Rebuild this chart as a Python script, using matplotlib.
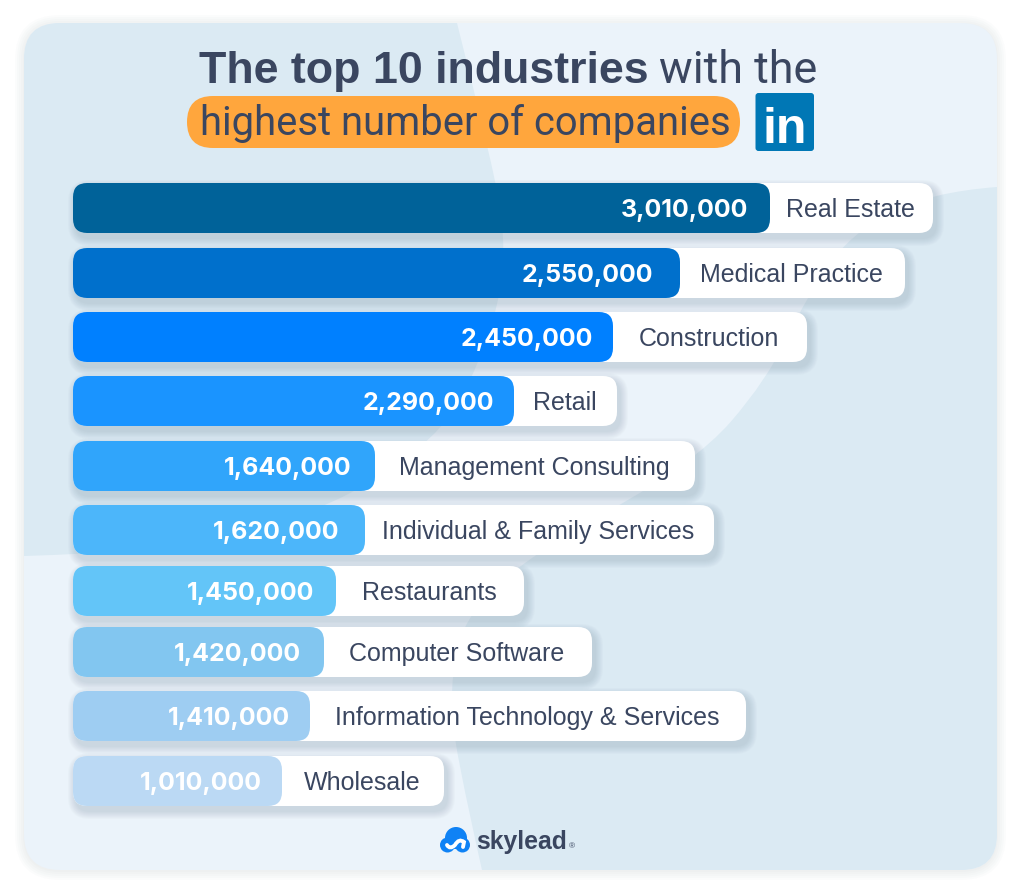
import matplotlib
matplotlib.use("Agg")
import matplotlib.pyplot as plt
from matplotlib.patches import FancyBboxPatch, PathPatch, Circle
from matplotlib.path import Path

plt.rcParams["font.family"] = ["Liberation Sans", "DejaVu Sans"]

industries = ["Real Estate", "Medical Practice", "Construction", "Retail",
              "Management Consulting", "Individual & Family Services",
              "Restaurants", "Computer Software",
              "Information Technology & Services", "Wholesale"]
company_labels = ["3,010,000", "2,550,000", "2,450,000", "2,290,000", "1,640,000",
                  "1,620,000", "1,450,000", "1,420,000", "1,410,000", "1,010,000"]
# the bars in the picture are not to scale with their labels, so lengths are read off it
bar_lengths = [697, 607, 540, 441, 302, 292, 263, 251, 237, 209]

pill_lengths = [860, 832, 734, 544, 622, 641, 451, 519, 673, 371]
bar_tops = [183, 248, 312, 376, 441, 505, 566, 627, 691, 756]
value_gaps = [22, 27, 20, 20, 23, 26, 22, 23, 20, 20]
bar_colors = ["#006299", "#0070CC", "#0080FF", "#1A94FF", "#30A5FB",
              "#4CB6FA", "#63C5F8", "#82C6F0", "#9ECDF2", "#BBD9F4"]
BAR_LEFT = 73
BAR_H = 50
DARK = "#3A4660"
LIGHT_BG = "#EBF3FA"
DARK_BG = "#DBEAF3"


def rounded(x, y, w, h, r, color, **kw):
    return FancyBboxPatch((x, y), w, h, boxstyle=f"round,pad=0,rounding_size={r}",
                          fc=color, ec="none", **kw)


def smooth_shape(points, closing):
    # quadratic spline through the midpoints of points, closed off along closing
    verts = [points[0]]
    codes = [Path.MOVETO]
    for i in range(1, len(points) - 1):
        mid = ((points[i][0] + points[i + 1][0]) / 2, (points[i][1] + points[i + 1][1]) / 2)
        if i == len(points) - 2:
            mid = points[i + 1]
        verts += [points[i], mid]
        codes += [Path.CURVE3, Path.CURVE3]
    for p in closing:
        verts.append(p)
        codes.append(Path.LINETO)
    verts.append(points[0])
    codes.append(Path.CLOSEPOLY)
    return Path(verts, codes)


fig = plt.figure(figsize=(10.2, 8.86), dpi=100, facecolor="white")
ax = fig.add_axes([0, 0, 1, 1])
ax.set_xlim(0, 1020)
ax.set_ylim(886, 0)
ax.axis("off")
renderer = fig.canvas.get_renderer()


def fit_text(x0, x1, y, s, **kw):
    # size the text so it spans x0..x1
    t = ax.text(x0, y, s, fontsize=30, va="baseline", **kw)
    t.set_fontsize(30 * (x1 - x0) / t.get_window_extent(renderer).width)
    return t


# card with its faint halo
for grow in [9, 7, 5, 3, 1]:
    ax.add_patch(rounded(24 - grow, 23 - grow + 1, 973 + 2 * grow, 847 + 2 * grow, 36 + grow,
                         "#9AA5AE", alpha=0.03))
card = rounded(24, 23, 973, 847, 36, LIGHT_BG)
ax.add_patch(card)

# background blobs
left_blob = smooth_shape(
    [(457, 23), (494, 170), (505, 237), (500, 303), (470, 385), (433, 440),
     (357, 493), (250, 535), (150, 552), (24, 556)],
    [(24, 23)])
right_blob = smooth_shape(
    [(997, 187), (930, 192), (851, 233), (806, 298), (767, 380), (695, 463),
     (526, 557), (462, 620), (450, 690), (455, 750), (482, 870)],
    [(997, 870)])
for blob in [left_blob, right_blob]:
    patch = PathPatch(blob, fc=DARK_BG, ec="none")
    ax.add_patch(patch)
    patch.set_clip_path(card)

# title
fit_text(199, 650, 83, "The top 10 industries", fontweight="bold", color=DARK)
fit_text(659, 817, 83, "with the", color=DARK, family="Roboto")
ax.add_patch(rounded(187, 96, 553, 52, 26, "#FFA63D"))
fit_text(200, 731, 135, "highest number of companies", color=DARK, family="Roboto")

# linkedin badge
ax.add_patch(rounded(755.5, 93, 58.5, 58, 3, "#0077B5"))
ax.text(784.5, 143, "in", fontsize=36, fontweight="bold", color="white", ha="center", va="baseline")

# rows
for name, value, length, pill, top, gap, color in zip(industries, company_labels, bar_lengths,
                                                      pill_lengths, bar_tops, value_gaps, bar_colors):
    for grow in [8, 7, 6, 5, 4, 3, 2, 1]:
        ax.add_patch(rounded(BAR_LEFT + 3 - grow, top + 5 - grow, pill + 2 * grow, BAR_H + 2 * grow,
                             14 + grow, "#5F7689", alpha=0.027))
    ax.add_patch(rounded(BAR_LEFT, top, pill, BAR_H, 14, "white"))
    ax.add_patch(rounded(BAR_LEFT, top, length, BAR_H, 14, color))
    end = BAR_LEFT + length
    ax.text(end - gap, top + 25, value, fontsize=18, fontweight="bold", family="Inter", color="white",
            ha="right", va="center_baseline")
    # labels sit in the middle of the white part of the pill
    ax.text((end + BAR_LEFT + pill) / 2 - 1, top + 24, name, fontsize=18, color=DARK,
            ha="center", va="center_baseline")

# skylead logo
blue = "#0F82F5"
ax.add_patch(Circle((456, 838), 11, fc=blue, ec="none"))
ax.add_patch(Circle((447.5, 845), 7.5, fc=blue, ec="none"))
ax.add_patch(Circle((462.5, 845), 7.5, fc=blue, ec="none"))
chain = Path([(447, 845), (450, 850), (455, 845), (459, 838), (464, 842), (463, 847)],
             [Path.MOVETO, Path.CURVE3, Path.CURVE3, Path.CURVE3, Path.CURVE3, Path.LINETO])
ax.add_patch(PathPatch(chain, fc="none", ec="white", lw=2.8, capstyle="round"))
fit_text(476, 567, 849, "skylead", fontweight="bold", color=DARK)
ax.text(569, 848, "®", fontsize=6, color=DARK, va="baseline")

fig.savefig("out.png", dpi=100)
plt.close()
